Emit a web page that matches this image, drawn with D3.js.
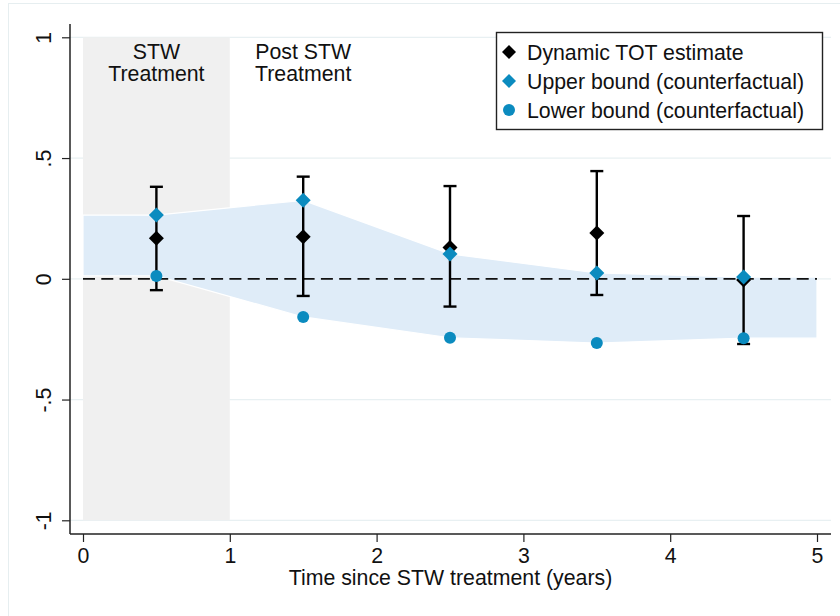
<!DOCTYPE html>
<html><head><meta charset="utf-8">
<script src="https://cdn.jsdelivr.net/npm/d3@7"></script>
<style>body{margin:0;background:#fff}svg{display:block}text{font-family:"Liberation Sans",Arial,sans-serif;fill:#111}</style>
</head><body><svg id="c" width="840" height="616"></svg>
<script>
const periods = [0.5, 1.5, 2.5, 3.5, 4.5];
const estimate = [0.168, 0.174, 0.130, 0.190, -0.005];
const ciLow = [-0.047, -0.071, -0.115, -0.067, -0.270];
const ciHigh = [0.381, 0.423, 0.384, 0.446, 0.260];
const upperBound = [0.264, 0.325, 0.103, 0.024, 0.007];
const lowerBound = [0.012, -0.158, -0.244, -0.266, -0.246];
const xTicks = [0, 1, 2, 3, 4, 5];
const yTicks = [-1, -0.5, 0, 0.5, 1];
const yTickLabels = ["-1", "-.5", "0", ".5", "1"];
const phaseLabels = [{x: 0.5, lines: ["STW", "Treatment"]}, {x: 1.5, lines: ["Post STW", "Treatment"]}];
const legendItems = ["Dynamic TOT estimate", "Upper bound (counterfactual)", "Lower bound (counterfactual)"];
const xTitle = "Time since STW treatment (years)";

const svg = d3.select("#c");
const x = d3.scaleLinear().domain([0, 5]).range([83, 817]);
const y = d3.scaleLinear().domain([-1, 1]).range([520.3, 37.3]);
const pLeft = 70, pRight = 831, pTop = 24, pBottom = 534;
const blue = "#0b8bbf", grid = "#e8f0f2";
const fs = 21.3;

// outer frame
svg.append("rect").attr("x", 8.5).attr("y", 3.5).attr("width", 900).attr("height", 700)
  .attr("fill", "none").attr("stroke", "#e6eef0");

// gridlines
svg.append("g").selectAll("line").data(yTicks).join("line")
  .attr("x1", pLeft).attr("x2", pRight).attr("y1", d => y(d)).attr("y2", d => y(d))
  .attr("stroke", grid).attr("stroke-width", 1.3);

// STW treatment shaded period
svg.append("rect").attr("x", x(0)).attr("width", x(1) - x(0))
  .attr("y", y(1)).attr("height", y(-1) - y(1)).attr("fill", "#f0f0f0");

// band
const bandPts = [{t: 0, hi: upperBound[0], lo: lowerBound[0]}]
  .concat(periods.map((t, i) => ({t, hi: upperBound[i], lo: lowerBound[i]})))
  .concat([{t: 5, hi: upperBound[4], lo: lowerBound[4]}]);
const area = d3.area().x(d => x(d.t)).y0(d => y(d.lo)).y1(d => y(d.hi));
svg.append("path").datum(bandPts).attr("d", area)
  .attr("fill", "#dfecf8").attr("stroke", "#fff").attr("stroke-width", 1.2);

// zero dashed line
svg.append("line").attr("x1", x(0)).attr("x2", x(5)).attr("y1", y(0)).attr("y2", y(0))
  .attr("stroke", "#111").attr("stroke-width", 1.8).attr("stroke-dasharray", "12,6.3");

// axes
const yAxis = d3.axisLeft(y).tickValues(yTicks).tickSize(8).tickFormat((d, i) => yTickLabels[i]);
const gy = svg.append("g").attr("transform", `translate(${pLeft},0)`).call(yAxis);
gy.select(".domain").remove();
gy.selectAll(".tick line").attr("stroke", "#222").attr("stroke-width", 1.2);
gy.selectAll(".tick text").attr("font-size", fs).attr("text-anchor", "middle")
  .attr("x", null).attr("dy", null)
  .attr("transform", "translate(-19,0) rotate(-90)").attr("fill", "#111");
svg.append("line").attr("x1", pLeft).attr("x2", pLeft).attr("y1", pTop).attr("y2", pBottom)
  .attr("stroke", "#222").attr("stroke-width", 1.5);

const xAxis = d3.axisBottom(x).tickValues(xTicks).tickSize(8).tickFormat(d3.format("d"));
const gx = svg.append("g").attr("transform", `translate(0,${pBottom})`).call(xAxis);
gx.select(".domain").remove();
gx.selectAll(".tick line").attr("stroke", "#222").attr("stroke-width", 1.2);
gx.selectAll(".tick text").attr("font-size", fs).attr("y", 28.5).attr("dy", null).attr("fill", "#111");
svg.append("line").attr("x1", pLeft).attr("x2", pRight).attr("y1", pBottom).attr("y2", pBottom)
  .attr("stroke", "#222").attr("stroke-width", 1.5);

svg.append("text").attr("x", (pLeft + pRight) / 2).attr("y", 585).attr("text-anchor", "middle")
  .attr("font-size", fs).text(xTitle);

// phase labels
phaseLabels.forEach(p => {
  p.lines.forEach((l, i) => {
    svg.append("text").attr("x", x(p.x)).attr("y", 59 + i * 22).attr("text-anchor", "middle")
      .attr("font-size", fs).text(l);
  });
});

// error bars
const eb = svg.append("g").selectAll("g").data(periods).join("g");
eb.append("line").attr("x1", d => x(d)).attr("x2", d => x(d))
  .attr("y1", (d, i) => y(ciHigh[i])).attr("y2", (d, i) => y(ciLow[i]))
  .attr("stroke", "#000").attr("stroke-width", 2.4);
eb.append("line").attr("x1", d => x(d) - 6.5).attr("x2", d => x(d) + 6.5)
  .attr("y1", (d, i) => y(ciHigh[i])).attr("y2", (d, i) => y(ciHigh[i]))
  .attr("stroke", "#000").attr("stroke-width", 2.4);
eb.append("line").attr("x1", d => x(d) - 6.5).attr("x2", d => x(d) + 6.5)
  .attr("y1", (d, i) => y(ciLow[i])).attr("y2", (d, i) => y(ciLow[i]))
  .attr("stroke", "#000").attr("stroke-width", 2.4);

function diamondPath(cx, cy, r) { return `M${cx},${cy - r}L${cx + r},${cy}L${cx},${cy + r}L${cx - r},${cy}Z`; }

svg.append("g").selectAll("path").data(periods).join("path")
  .attr("d", (d, i) => diamondPath(x(d), y(estimate[i]), 7.5)).attr("fill", "#000");
svg.append("g").selectAll("path").data(periods).join("path")
  .attr("d", (d, i) => diamondPath(x(d), y(upperBound[i]), 7.5)).attr("fill", blue);
svg.append("g").selectAll("circle").data(periods).join("circle")
  .attr("cx", d => x(d)).attr("cy", (d, i) => y(lowerBound[i])).attr("r", 6).attr("fill", blue);

// legend
const lg = svg.append("g");
lg.append("rect").attr("x", 496.5).attr("y", 32.5).attr("width", 326).attr("height", 97)
  .attr("fill", "#fff").attr("stroke", "#222").attr("stroke-width", 1.4);
const rowsY = [52, 81, 110];
legendItems.forEach((t, i) => {
  const cy = rowsY[i];
  if (i === 0) lg.append("path").attr("d", diamondPath(509, cy, 7)).attr("fill", "#000");
  else if (i === 1) lg.append("path").attr("d", diamondPath(509, cy, 7)).attr("fill", blue);
  else lg.append("circle").attr("cx", 509).attr("cy", cy).attr("r", 6).attr("fill", blue);
  lg.append("text").attr("x", 527).attr("y", cy + 7.5).attr("font-size", fs).text(t);
});
</script></body></html>
